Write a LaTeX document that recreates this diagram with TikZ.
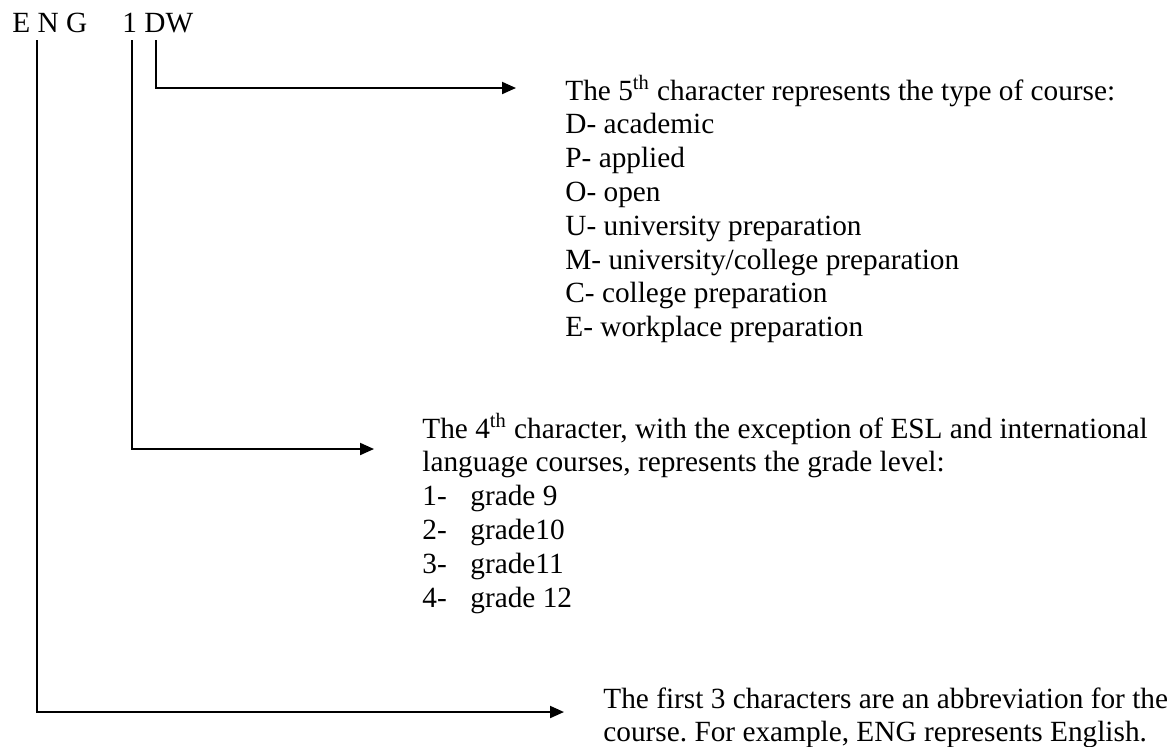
\documentclass[tikz,border=0pt]{standalone}
\usepackage{fontspec}
\setmainfont{Liberation Serif}
\usetikzlibrary{arrows.meta}
\begin{document}
\frenchspacing
\begin{tikzpicture}[x=0.5pt,y=-0.5pt,
  txt/.style={anchor=base west,inner sep=0pt,font=\fontsize{14.65}{16.9}\selectfont},
  conn/.style={line width=1pt,-{Triangle[length=7pt,width=6pt]}}]
\useasboundingbox (0,0) rectangle (1171,746);
% code letters
\node[txt] (eng) at (12,32) {E N G};
\node[txt] (one) at (122,32) {1};
\node[txt] (dw) at (144,32) {DW};
% corner / end coordinates
\coordinate (nTop) at (37,40);
\coordinate (nCorner) at (37,712);
\coordinate (nTip) at (564,712);
\coordinate (oTop) at (132,40);
\coordinate (oCorner) at (132,449);
\coordinate (oTip) at (374,449);
\coordinate (dTop) at (156,40);
\coordinate (dCorner) at (156,88);
\coordinate (dTip) at (516,88);
% block 1
\node[txt] (a0) at (565,100) {The 5\textsuperscript{th} character represents the type of course:};
\node[txt] (a1) at (565,133.8) {D- academic};
\node[txt] (a2) at (565,167.6) {P- applied};
\node[txt] (a3) at (565,201.4) {O- open};
\node[txt] (a4) at (565,235.2) {U- university preparation};
\node[txt] (a5) at (565,269) {M- university/college preparation};
\node[txt] (a6) at (565,302.8) {C- college preparation};
\node[txt] (a7) at (565,336.6) {E- workplace preparation};
% block 2
\node[txt] (b0) at (422,438) {The 4\textsuperscript{th} character, with the exception of ESL and international};
\node[txt] (b1) at (422,471.8) {language courses, represents the grade level:};
\node[txt] (n1) at (422,505.6) {1-};
\node[txt] (g1) at (470,505.6) {grade 9};
\node[txt] (n2) at (422,539.4) {2-};
\node[txt] (g2) at (470,539.4) {grade10};
\node[txt] (n3) at (422,573.2) {3-};
\node[txt] (g3) at (470,573.2) {grade11};
\node[txt] (n4) at (422,607) {4-};
\node[txt] (g4) at (470,607) {grade 12};
% block 3
\node[txt] (c0) at (603,708) {The first 3 characters are an abbreviation for the};
\node[txt] (c1) at (603,741) {course. For example, ENG represents English.};
% connectors
\draw[conn] (nTop) -- (nCorner) -- (nTip);
\draw[conn] (oTop) -- (oCorner) -- (oTip);
\draw[conn] (dTop) -- (dCorner) -- (dTip);
\end{tikzpicture}
\end{document}
